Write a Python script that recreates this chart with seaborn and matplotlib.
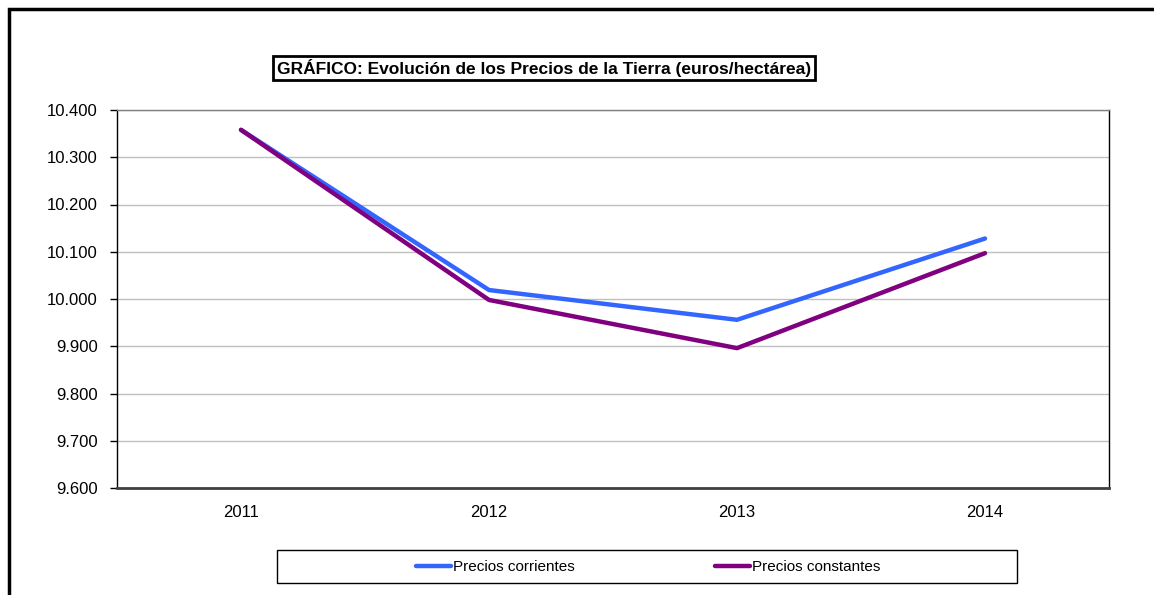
import numpy as np
import matplotlib
matplotlib.use("Agg")
import matplotlib.pyplot as plt
import seaborn as sns
import pandas as pd
from matplotlib.patches import Rectangle
from matplotlib.ticker import FuncFormatter, FixedLocator

# data
years = ["2011", "2012", "2013", "2014"]
corrientes = [10358, 10019, 9956, 10128]
constantes = [10358, 9998, 9896, 10097]
series_names = ["Precios corrientes", "Precios constantes"]
series_colors = ["#3366FF", "#800080"]

df = pd.DataFrame({
    "year": years * 2,
    "value": corrientes + constantes,
    "serie": [series_names[0]] * 4 + [series_names[1]] * 4,
})

sns.set_style("white")
plt.rcParams['font.family'] = ['Liberation Sans', 'DejaVu Sans']

W, H = 1154, 595
fig = plt.figure(figsize=(W / 100, H / 100), dpi=100)

def fx(px):
    return px / W

def fy(py):
    return 1 - py / H

ax = fig.add_axes([fx(117), fy(488), fx(1109) - fx(117), fy(110) - fy(488)])

sns.lineplot(data=df, x="year", y="value", hue="serie", palette=series_colors,
             hue_order=series_names, linewidth=3.2, ax=ax, legend=False, sort=False)

ax.set_xlim(-0.5, 3.5)
ax.set_ylim(9600, 10400)
ax.set_yticks(np.arange(9600, 10401, 100))
ax.yaxis.set_major_formatter(FuncFormatter(lambda v, p: f"{v:,.0f}".replace(",", ".")))
ax.grid(axis="y", color="#C0C0C0", linewidth=1)
ax.set_axisbelow(True)

ax.set_xticks(range(len(years)))
ax.set_xticklabels(years)
ax.xaxis.set_minor_locator(FixedLocator(np.arange(-0.5, 4, 1)))
ax.tick_params(axis="x", which="major", length=0, pad=12, labelsize=12, colors="black")
ax.tick_params(axis="x", which="minor", length=5, width=1, color="black", direction="out")
ax.tick_params(axis="y", length=5, width=1, color="black", direction="out", pad=9,
               labelsize=12, labelcolor="black", left=True)
ax.set_xlabel("")
ax.set_ylabel("")

for side in ["left", "right"]:
    ax.spines[side].set_color("black")
    ax.spines[side].set_linewidth(1)
ax.spines["bottom"].set_color("#404040")
ax.spines["bottom"].set_linewidth(2)
ax.spines["top"].set_color("#808080")
ax.spines["top"].set_linewidth(1)

# outer chart frame (only top and left visible)
fig.patches.append(Rectangle((fx(9), fy(700)), fx(1200), fy(9) - fy(700),
                             transform=fig.transFigure, fill=False,
                             edgecolor="black", linewidth=2.5))

# title with box
fig.text(fx(544), fy(68), "GRÁFICO: Evolución de los Precios de la Tierra (euros/hectárea)",
         ha="center", va="center", fontsize=12.5, fontweight="bold", color="black",
         bbox=dict(boxstyle="square,pad=0.2", facecolor="white", edgecolor="black", linewidth=2))

# legend frame + legend
fig.patches.append(Rectangle((fx(277), fy(583)), fx(1017) - fx(277), fy(550) - fy(583),
                             transform=fig.transFigure, fill=False,
                             edgecolor="black", linewidth=1))
handles = [plt.Line2D([], [], color=c, linewidth=3.2) for c in series_colors]
fig.legend(handles, series_names, loc="center", bbox_to_anchor=(fx(648), fy(567)),
           ncol=2, frameon=False, fontsize=11, handlelength=2.3, handletextpad=0.1,
           columnspacing=9.2, labelcolor="black")

fig.savefig("out.png", dpi=100)
